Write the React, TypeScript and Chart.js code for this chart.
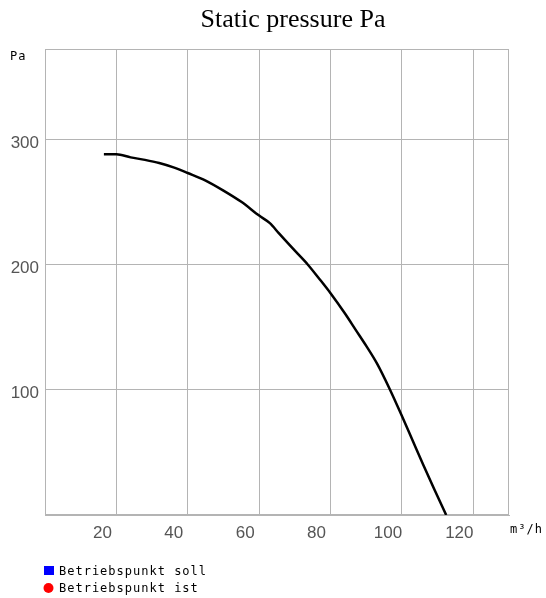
import { useEffect, useRef } from 'react';
import { Chart, registerables } from 'chart.js';

Chart.register(...registerables);

// Volume flow (m³/h)
const flow = [16.5, 20, 24, 28, 32, 36, 40, 45, 50, 55, 60, 63, 65.5, 70, 73.6, 77, 80, 84, 87, 90, 93, 96.5, 100, 103, 106, 109, 112.4];
// Static pressure (Pa)
const pressure = [288, 288, 285.5, 283.5, 281, 277.5, 273, 267, 259, 250, 239, 233, 225, 211, 200, 188, 177, 161, 148, 135, 121, 101, 79, 59.5, 40, 21, 0];

const titleText = 'Static pressure Pa';
const yUnit = 'Pa';
const xUnit = 'm³/h';
const legendItems = ['Betriebspunkt soll', 'Betriebspunkt ist'];
const legendColors = ['#0000ff', '#ff0000'];

const gridColor = '#b4b4b4';
const pixelFont = '12px "DejaVu Sans Mono"';

const extras = {
  id: 'extras',
  beforeDatasetsDraw(chart: any) {
    const { ctx, chartArea: a } = chart;
    ctx.save();
    ctx.strokeStyle = gridColor;
    ctx.lineWidth = 1;
    ctx.strokeRect(Math.round(a.left) + 0.5, Math.round(a.top) + 0.5, Math.round(a.right - a.left) - 1, Math.round(a.bottom - a.top) - 1);
    ctx.restore();
  },
  afterDraw(chart: any) {
    const { ctx } = chart;
    ctx.save();
    // title
    ctx.fillStyle = '#000';
    ctx.font = '26px "Liberation Serif"';
    ctx.textAlign = 'center';
    ctx.textBaseline = 'alphabetic';
    ctx.fillText(titleText, 293, 27);
    // axis units
    ctx.font = pixelFont;
    (ctx as any).letterSpacing = '1px';
    ctx.textAlign = 'left';
    ctx.fillStyle = '#000';
    ctx.fillText(yUnit, 10, 60);
    ctx.fillText(xUnit, 510, 533);
    // legend
    ctx.fillStyle = legendColors[0];
    ctx.fillRect(44, 566, 10, 9);
    ctx.fillStyle = legendColors[1];
    ctx.beginPath();
    ctx.arc(48.5, 588, 5, 0, Math.PI * 2);
    ctx.fill();
    ctx.fillStyle = '#000';
    ctx.fillText(legendItems[0], 59, 575);
    ctx.fillText(legendItems[1], 59, 592);
    ctx.restore();
  },
};

export default function App() {
  const ref = useRef<HTMLCanvasElement>(null);
  useEffect(() => {
    const chart = new Chart(ref.current as HTMLCanvasElement, {
      type: 'line',
      data: {
        datasets: [
          {
            data: flow.map((x, i) => ({ x, y: pressure[i] })),
            borderColor: '#000',
            borderWidth: 2.5,
            pointRadius: 0,
            cubicInterpolationMode: 'monotone',
            fill: false,
          },
        ],
      },
      options: {
        animation: false,
        responsive: false,
        devicePixelRatio: 1,
        layout: { padding: { top: 49, right: 37, left: 0, bottom: 0 } },
        plugins: { legend: { display: false }, title: { display: false }, tooltip: { enabled: false } },
        scales: {
          x: {
            type: 'linear',
            min: 0,
            max: 130,
            afterFit(s: any) { s.height = 83; },
            grid: { color: gridColor, drawTicks: false },
            border: { color: gridColor },
            ticks: {
              stepSize: 20,
              includeBounds: false,
              autoSkip: false,
              maxRotation: 0,
              padding: 8,
              labelOffset: -14,
              color: '#555',
              font: { family: 'Liberation Sans', size: 17 },
              callback: (v: any) => (v === 0 ? '' : String(v)),
            },
          },
          y: {
            type: 'linear',
            min: 0,
            max: 372,
            afterFit(s: any) { s.width = 45; },
            grid: { color: gridColor, drawTicks: false },
            border: { color: gridColor },
            ticks: {
              stepSize: 100,
              includeBounds: false,
              padding: 6,
              labelOffset: 4,
              color: '#555',
              font: { family: 'Liberation Sans', size: 17 },
              callback: (v: any) => (v === 0 ? '' : String(v)),
            },
          },
        },
      },
      plugins: [extras],
    });
    return () => chart.destroy();
  }, []);
  return (
    <div style={{ position: 'absolute', left: 0, top: 0, width: 546, height: 598 }}>
      <canvas ref={ref} width={546} height={598} style={{ display: 'block', width: 546, height: 598 }} />
    </div>
  );
}
